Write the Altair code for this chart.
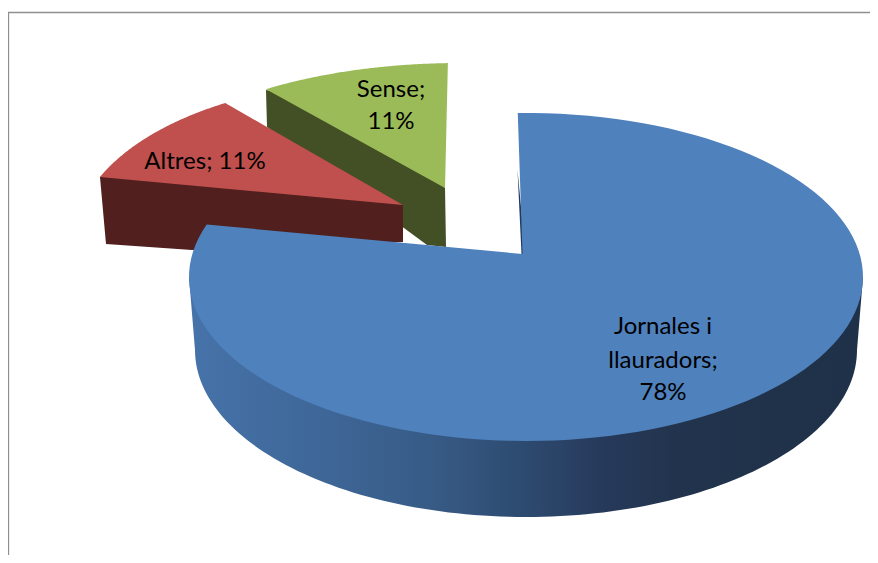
import math
import altair as alt

# --- chart values ---
categories = ["Jornales i llauradors", "Altres", "Sense"]
shares = [78, 11, 11]
label_lines = [["Jornales i", "llauradors;", "78%"], ["Altres; 11%"], ["Sense;", "11%"]]

# --- drawing constants of the tilted, exploded pie (reference pixels) ---
OFF = 8
W, H = 862, 547
top_colors = ["#4f81bd", "#c0504d", "#9bbb59"]
wall_colors = [None, "#501f1e", "#434f24"]
# ellipse centre x, y, radii; first elliptical angle, perspective stretch of the sweep; apex
ell = [
    dict(cx=526, cy=277, rx=337, ry=164, start=-1.4, stretch=1.033, apex=(522.5, 254)),
    dict(cx=380, cy=240, rx=305, ry=159, start=-66.7, stretch=0.914, apex=(403, 205)),
    dict(cx=460, cy=200, rx=330, ry=137, start=-36.0, stretch=0.856, apex=(445, 188)),
]
LOWER = dict(cx=526, cy=350, rx=331, ry=167)
INNER = dict(cx=526, cy=277, rx=325, ry=150)


def pt(e, deg):
    a = math.radians(deg)
    return [e["cx"] + e["rx"] * math.sin(a), e["cy"] - e["ry"] * math.cos(a)]


def arc(e, a0, a1, n=120):
    return [pt(e, a0 + (a1 - a0) * i / n) for i in range(n + 1)]


def feature(points):
    ring = [list(p) for p in points]
    ring.append(ring[0])
    return {"type": "Feature", "properties": {}, "geometry": {"type": "Polygon", "coordinates": [ring]}}


def shape(points, fill):
    return alt.Chart(alt.Data(values=[feature(points)])).mark_geoshape(
        fill=fill, strokeWidth=0
    ).project(type="identity", scale=1, translate=[-OFF, -OFF])


def slice_top(i):
    e = ell[i]
    a0 = e["start"]
    a1 = a0 + shares[i] * 3.6 * e["stretch"]
    return [e["apex"]] + arc(e, a0, a1)


# side walls (each runs a little under its top face, so no seam shows)
green_wall = [(266, 90), (380, 112), (445, 188), (446, 247), (427, 245), (267, 127)]
red_wall = [(100, 177), (250, 160), (403, 205), (403, 242), (192, 250), (106, 244)]
blue_wall = arc(LOWER, 90, 270) + [pt(ell[0], 270)] + arc(INNER, 270, 90) + [pt(ell[0], 90)]
inner_sliver = [(517.5, 170), (525.5, 254), (521.5, 254)]

wall_fill = alt.Gradient(
    gradient="linear", x1=0, x2=1, y1=0, y2=0,
    stops=[
        alt.GradientStop(offset=0.0, color="#4673aa"),
        alt.GradientStop(offset=0.16, color="#40699b"),
        alt.GradientStop(offset=0.36, color="#375b86"),
        alt.GradientStop(offset=0.50, color="#2d4a6f"),
        alt.GradientStop(offset=0.62, color="#26395a"),
        alt.GradientStop(offset=0.72, color="#22344d"),
        alt.GradientStop(offset=1.0, color="#1f3148"),
    ],
)

frame_color = "#8f8f8f"
frame_top = alt.Chart(alt.Data(values=[{"a": 1}])).mark_rule(color=frame_color, strokeWidth=1.5).encode(
    x=alt.value(0), x2=alt.value(W), y=alt.value(4.5)
)
frame_left = alt.Chart(alt.Data(values=[{"a": 1}])).mark_rule(color=frame_color, strokeWidth=1.5).encode(
    x=alt.value(0.4), y=alt.value(4.5), y2=alt.value(H)
)

layers = [
    frame_top,
    frame_left,
    shape(green_wall, wall_colors[2]),
    shape(slice_top(2), top_colors[2]),
    shape(red_wall, wall_colors[1]),
    shape(slice_top(1), top_colors[1]),
    shape(blue_wall, wall_fill),
    shape(inner_sliver, "#1f3a5f"),
    shape(slice_top(0), top_colors[0]),
]

label_centres = [(663, [327, 361, 393]), (205, [162]), (391, [90, 122])]
for lines, (lx, ys) in zip(label_lines, label_centres):
    for text, ly in zip(lines, ys):
        layers.append(
            alt.Chart(alt.Data(values=[{"t": text}])).mark_text(
                font="Lato", fontSize=24, color="#000000", align="center", baseline="middle"
            ).encode(text="t:N", x=alt.value(lx - OFF), y=alt.value(ly - OFF))
        )

chart = alt.layer(*layers).properties(
    width=W, height=H, padding=0, background="#ffffff",
    autosize=alt.AutoSizeParams(type="none"),
).configure_view(stroke=None)

chart.save("out.html", embed_options={"renderer": "svg", "actions": False})
